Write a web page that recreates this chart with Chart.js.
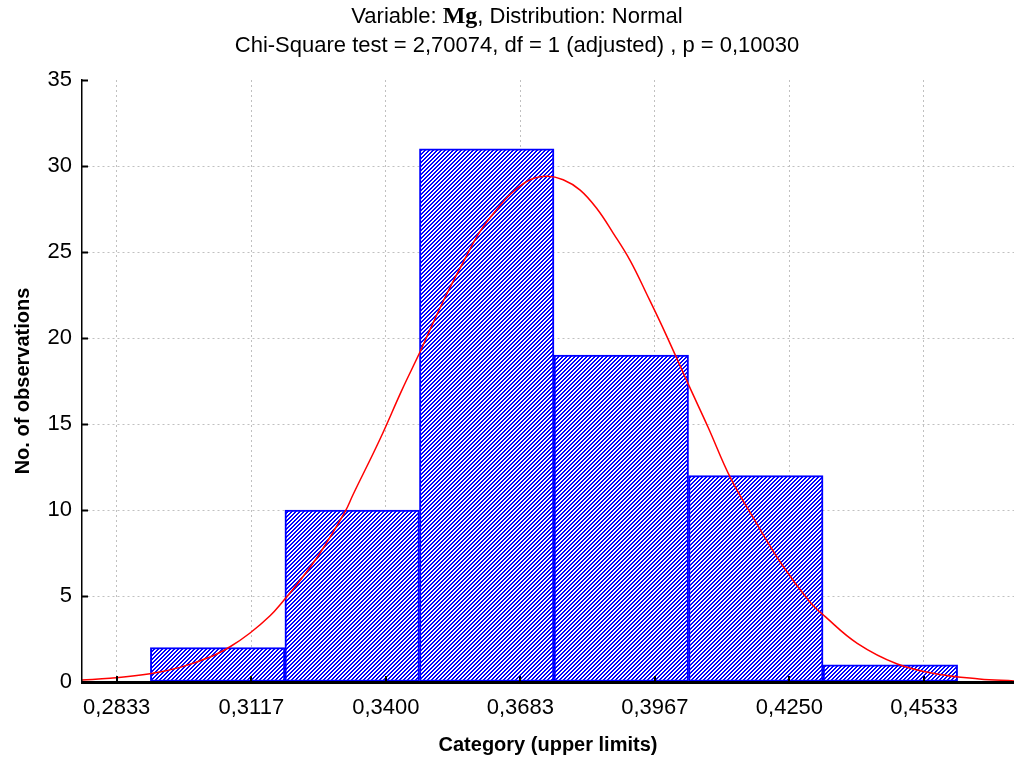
<!DOCTYPE html>
<html>
<head>
<meta charset="utf-8">
<script src="https://cdn.jsdelivr.net/npm/chart.js@4.4.0/dist/chart.umd.min.js"></script>
<style>
html, body { margin: 0; padding: 0; background: #fff; overflow: hidden; }
#wrap { position: relative; width: 1014px; height: 763px; }
</style>
</head>
<body>
<div id="wrap"><canvas id="histChart"></canvas></div>
<script>
// histogram bins (edges) and counts
const binEdges = [0.29042, 0.31875, 0.34708, 0.37542, 0.40375, 0.43208, 0.46042];
const binCounts = [2, 10, 31, 19, 12, 1];

// x tick positions (upper limits)
const tickValues = [0.28333, 0.31167, 0.34, 0.36833, 0.39667, 0.425, 0.45333];
const yTicks = [0, 5, 10, 15, 20, 25, 30, 35];

// fitted normal curve
const curveX = [0.27602, 0.28192, 0.29034, 0.29666, 0.30299, 0.30720, 0.31141, 0.31562, 0.31836,
    0.32194, 0.32616, 0.33142, 0.33311, 0.33874, 0.34343, 0.34722, 0.34933, 0.35291, 0.35628,
    0.35986, 0.36344, 0.36682, 0.37040, 0.37398, 0.37735, 0.38093, 0.38451, 0.38788, 0.39146,
    0.39504, 0.39884, 0.40389, 0.40789, 0.41253, 0.41780, 0.42348, 0.42917, 0.43254, 0.43928,
    0.44771, 0.45635, 0.46498, 0.47229];
const curveY = [0.12, 0.22, 0.48, 0.85, 1.45, 2.05, 2.85, 3.85, 4.7,
    5.9, 7.5, 9.9, 10.9, 14.1, 17.0, 19.2, 20.5, 22.6, 24.4,
    26.2, 27.5, 28.5, 29.2, 29.4, 29.2, 28.6, 27.5, 26.1, 24.5,
    22.5, 20.3, 17.2, 14.8, 11.9, 9.35, 6.8, 4.7, 3.8, 2.25,
    1.05, 0.45, 0.18, 0.06];

const titleLine1 = ['Variable: ', 'Mg', ', Distribution: Normal'];
const titleLine2 = 'Chi-Square test = 2,70074, df = 1 (adjusted) , p = 0,10030';

Chart.defaults.font.family = '"Liberation Sans", Arial, sans-serif';
Chart.defaults.color = '#000';

// hatch fill like the original
function makeHatch() {
    const c = document.createElement('canvas');
    c.width = 4; c.height = 4;
    const g = c.getContext('2d');
    g.fillStyle = '#fff';
    g.fillRect(0, 0, 4, 4);
    g.fillStyle = '#0000ff';
    for (let px = 0; px < 4; px++) {
        for (let py = 0; py < 4; py++) {
            const k = (px + py) % 4;
            if (k === 2 || k === 3) g.fillRect(px, py, 1, 1);
        }
    }
    return g.createPattern(c, 'repeat');
}

const decor = {
    id: 'decor',
    afterDatasetsDraw(chart) {
        const { ctx, chartArea, scales: { x, y } } = chart;
        ctx.save();
        ctx.strokeStyle = '#000';
        ctx.lineWidth = 2;
        yTicks.forEach(v => {
            const py = Math.round(y.getPixelForValue(v)) + 0.5;
            ctx.beginPath();
            ctx.moveTo(chartArea.left, py);
            ctx.lineTo(chartArea.left + 6, py);
            ctx.stroke();
        });
        tickValues.forEach(v => {
            const px = Math.round(x.getPixelForValue(v));
            ctx.beginPath();
            ctx.moveTo(px, chartArea.bottom);
            ctx.lineTo(px, chartArea.bottom - 6);
            ctx.stroke();
        });
        ctx.restore();
    },
    afterDraw(chart) {
        const ctx = chart.ctx;
        const cx = 517;
        ctx.save();
        ctx.fillStyle = '#000';
        ctx.textBaseline = 'middle';
        const fSans = '22px "Liberation Sans", Arial, sans-serif';
        const fSerif = 'bold 24px "Liberation Serif", "Times New Roman", serif';
        ctx.font = fSans;
        const w1 = ctx.measureText(titleLine1[0]).width;
        const w3 = ctx.measureText(titleLine1[2]).width;
        ctx.font = fSerif;
        const w2 = ctx.measureText(titleLine1[1]).width;
        let sx = cx - (w1 + w2 + w3) / 2;
        ctx.textAlign = 'left';
        ctx.font = fSans;
        ctx.fillText(titleLine1[0], sx, 17);
        ctx.font = fSerif;
        ctx.fillText(titleLine1[1], sx + w1, 17);
        ctx.font = fSans;
        ctx.fillText(titleLine1[2], sx + w1 + w2, 17);
        ctx.textAlign = 'center';
        ctx.fillText(titleLine2, cx, 46);
        ctx.restore();
    }
};

const ctx = document.getElementById('histChart').getContext('2d');
const hatch = makeHatch();

new Chart(ctx, {
    type: 'bar',
    data: {
        datasets: [
            {
                type: 'line',
                data: curveX.map((v, i) => ({ x: v, y: curveY[i] })),
                borderColor: '#ff0000',
                borderWidth: 1.5,
                pointRadius: 0,
                tension: 0.4,
                fill: false,
                order: 0
            },
            {
                type: 'bar',
                data: binCounts.map((c, i) => ({ x: (binEdges[i] + binEdges[i + 1]) / 2, y: c })),
                backgroundColor: hatch,
                borderColor: '#0000ff',
                borderWidth: 2,
                borderSkipped: false,
                barPercentage: 1,
                categoryPercentage: 1,
                order: 1
            }
        ]
    },
    options: {
        responsive: true,
        maintainAspectRatio: false,
        animation: false,
        events: [],
        layout: { padding: { top: 80, left: 0, right: 0, bottom: 0 } },
        plugins: {
            legend: { display: false },
            title: { display: false },
            tooltip: { enabled: false }
        },
        scales: {
            x: {
                type: 'linear',
                offset: false,
                min: 0.27602,
                max: 0.47229,
                afterBuildTicks: scale => {
                    scale.ticks = tickValues.map(v => ({ value: v }));
                },
                afterFit: scale => { scale.height = 81; },
                ticks: {
                    font: { size: 22 },
                    padding: 13,
                    maxRotation: 0,
                    autoSkip: false,
                    callback: v => v.toFixed(4).replace('.', ',')
                },
                grid: {
                    color: '#c0c0c0',
                    lineWidth: 1,
                    offset: false,
                    drawTicks: false
                },
                border: { color: '#000', width: 3, dash: [2, 3], z: 1 },
                title: {
                    display: true,
                    text: 'Category (upper limits)',
                    font: { size: 20, weight: 'bold' },
                    padding: 6
                }
            },
            y: {
                min: 0,
                max: 35,
                afterBuildTicks: scale => {
                    scale.ticks = yTicks.map(v => ({ value: v }));
                },
                afterFit: scale => { scale.width = 82; },
                ticks: {
                    font: { size: 22 },
                    padding: 10
                },
                grid: {
                    color: c => (c.tick && (c.tick.value === 0 || c.tick.value === 35)) ? 'rgba(0,0,0,0)' : '#c0c0c0',
                    lineWidth: 1,
                    drawTicks: false
                },
                border: { color: '#000', width: 1.5, dash: [2, 3], z: 1 },
                title: {
                    display: true,
                    text: 'No. of observations',
                    font: { size: 20, weight: 'bold' },
                    padding: 11
                }
            }
        }
    },
    plugins: [decor]
});
</script>
</body>
</html>
